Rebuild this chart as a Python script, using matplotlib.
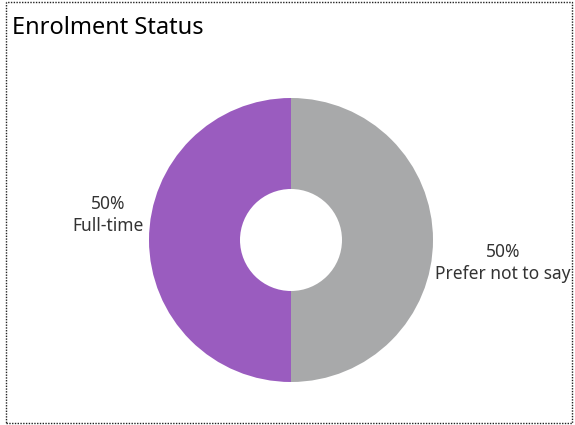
import matplotlib.pyplot as plt
from matplotlib.patches import Rectangle

# data
categories = ['Full-time', 'Prefer not to say']
shares = [50, 50]
colors = ['#9a5cbf', '#a8a9aa']

W, H = 575, 425
fig = plt.figure(figsize=(W / 100, H / 100), dpi=100)
ax = fig.add_axes([0, 0, 1, 1])

plt.rcParams['font.family'] = ['Noto Sans', 'DejaVu Sans']

cx, cy = 291, H - 240
r_out, r_in = 142, 51
ax.pie(shares, colors=colors, startangle=90, counterclock=True,
       center=(cx, cy), radius=r_out, frame=True,
       wedgeprops=dict(width=r_out - r_in, linewidth=0))
ax.set_xlim(0, W)
ax.set_ylim(0, H)
ax.set_aspect('equal')
ax.axis('off')

# labels
ax.text(108, H - 215, '%d%%\n%s' % (shares[0], categories[0]), ha='center', va='center',
        fontsize=12.5, color='#333333', linespacing=1.3)
ax.text(503, H - 263, '%d%%\n%s' % (shares[1], categories[1]), ha='center', va='center',
        fontsize=12.5, color='#333333', linespacing=1.3)

ax.text(12, H - 28, 'Enrolment Status', ha='left', va='center', fontsize=17, color='black')

# dotted frame
ax.add_patch(Rectangle((6, 2), 566, 421, fill=False, linestyle=(0, (1, 1)),
                       linewidth=1, edgecolor='#222222'))

fig.savefig('out.png', dpi=100)
